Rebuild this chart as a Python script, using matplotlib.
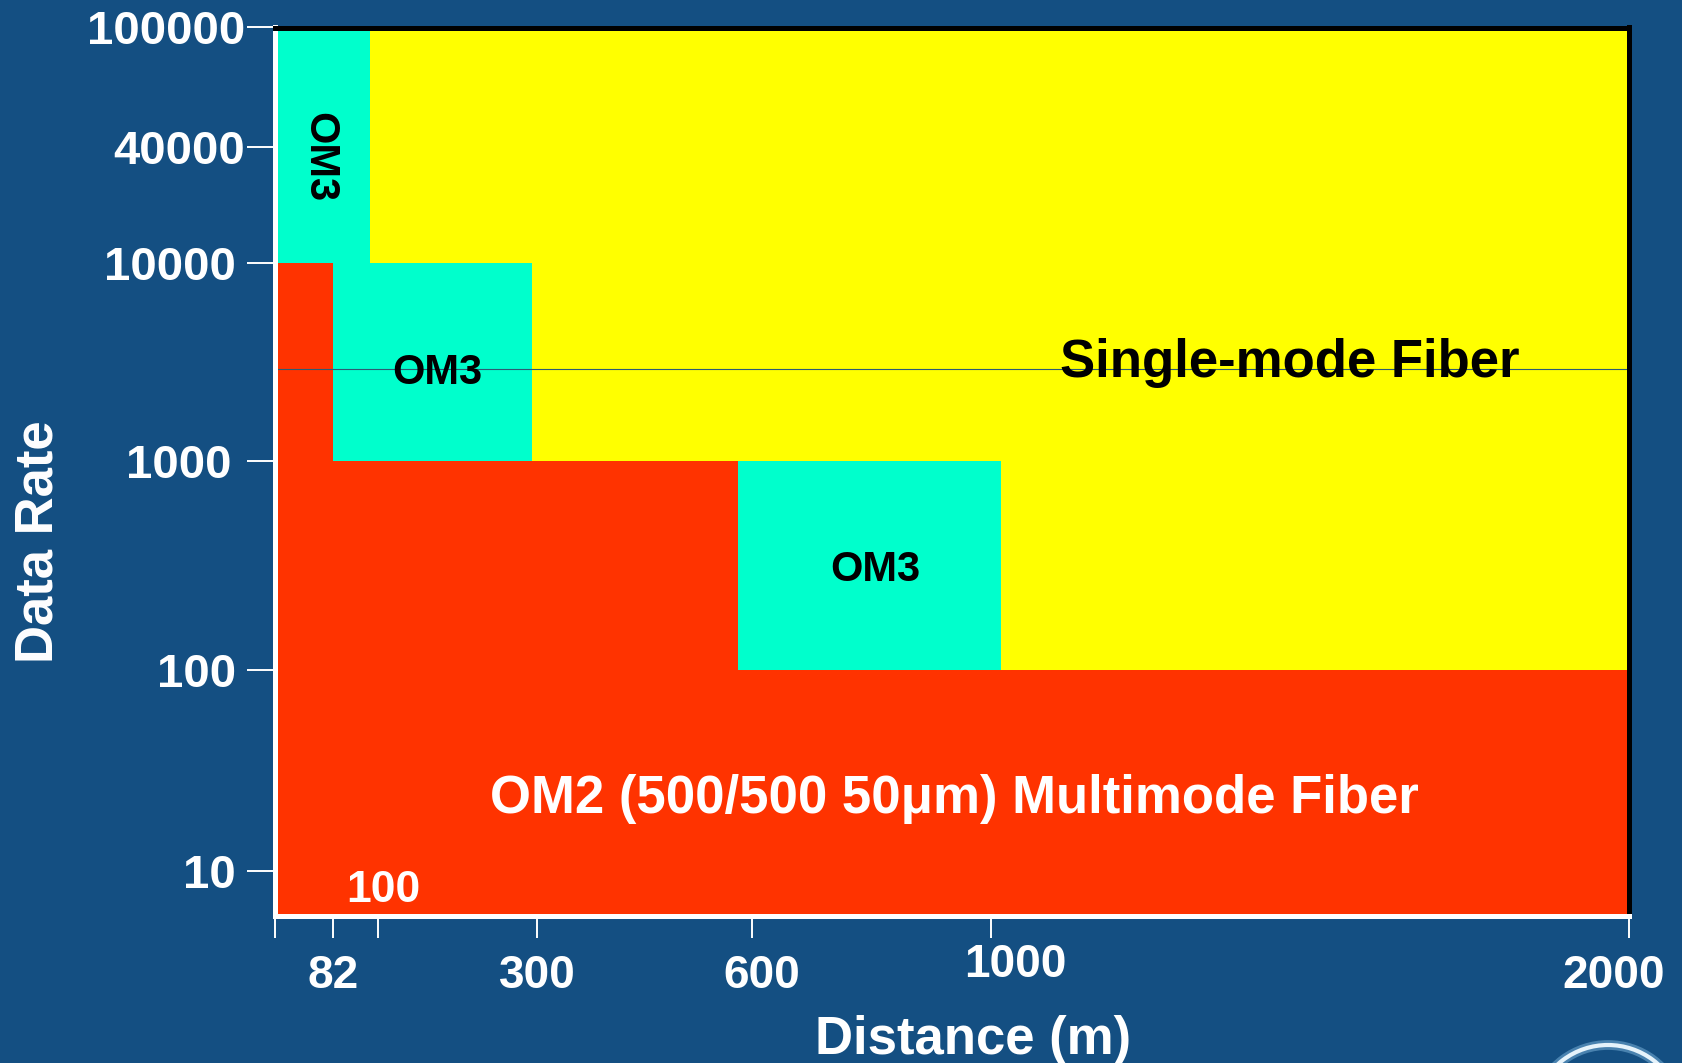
import numpy as np
import matplotlib
matplotlib.use("Agg")
import matplotlib.pyplot as plt
from matplotlib.patches import Arc
from matplotlib.transforms import ScaledTranslation

plt.rcParams['font.family'] = ['Liberation Sans', 'DejaVu Sans']
plt.rcParams['font.weight'] = 'bold'

# 数据：距离 (m) 与速率
x_ticks = [0, 82, 100, 300, 600, 1000, 2000]
x_ticklabels = ['', '82', '', '300', '600', '1000', '2000']
y_ticks = [10, 100, 1000, 10000, 40000, 100000]
y_ticklabels = ['10', '100', '1000', '10000', '40000', '100000']

# OM2 多模光纤：各段距离上限及对应最高速率
om2_edges = [0, 82, 580, 2000]
om2_rates = [10000, 1000, 100]

# 单模光纤区域
sm_dist = (0, 2000)
sm_rate = (100, 100000)

# OM3 区域：(起始距离, 结束距离, 最低速率, 最高速率)
om3_x0 = [0, 82, 580]
om3_x1 = [97, 294, 1016]
om3_y0 = [10000, 1000, 100]
om3_y1 = [100000, 10000, 1000]
om3_rot = [-90, 0, 0]
om3_nudge = [(-2.3, -8.5), (3.1, -7.7), (3.9, -3.1)]  # 标签微调 (pt)

ref_rate = 2900  # 细横线

# 不均匀刻度：分段线性映射
x_knots = [0, 82, 100, 300, 600, 1000, 2000]
x_pos = [275, 333, 378, 537, 752, 991, 1629]
y_knots = np.log10([6.0, 10, 100, 1000, 10000, 40000, 100000])
y_pos = [-915.5, -871, -670, -461, -263, -147, -27.5]


def fx(d):
    return np.interp(d, x_knots, x_pos)


def fx_inv(p):
    return np.interp(p, x_pos, x_knots)


def fy(v):
    v = np.clip(np.asarray(v, dtype=float), 1e-12, None)
    return np.interp(np.log10(v), y_knots, y_pos)


def fy_inv(p):
    return 10 ** np.interp(p, y_pos, y_knots)


BG = '#144f82'
RED = '#ff3300'
YELLOW = '#ffff00'
CYAN = '#00ffcc'

fig = plt.figure(figsize=(16.82, 10.63), dpi=100, facecolor=BG)
W, H = 1682, 1063
ax = fig.add_axes([275 / W, 1 - 915.5 / H, (1629 - 275) / W, (915.5 - 27.5) / H])
ax.set_facecolor(BG)
ax.set_xscale('function', functions=(fx, fx_inv))
ax.set_yscale('function', functions=(fy, fy_inv))
ax.set_xlim(0, 2000)
ax.set_ylim(6.0, 100000)

# 单模光纤（黄色底）
ax.fill_between(sm_dist, sm_rate[0], sm_rate[1], color=YELLOW, lw=0, zorder=1)
# OM2 阶梯区域
ax.stairs(om2_rates, om2_edges, baseline=6.0, fill=True, color=RED, lw=0, zorder=1.2)
# OM3 区域
for x0, x1, y0, y1, rot, nd in zip(om3_x0, om3_x1, om3_y0, om3_y1, om3_rot, om3_nudge):
    ax.fill_between([x0, x1], y0, y1, color=CYAN, lw=0, zorder=1.4)
    cx = fx_inv((fx(x0) + fx(x1)) / 2)
    cy = fy_inv((fy(y0) + fy(y1)) / 2)
    ax.annotate('OM3', xy=(cx, cy), xytext=nd, textcoords='offset points',
                rotation=rot, ha='center', va='center',
                fontsize=30, fontweight='bold', color='black', zorder=3)

ax.axhline(ref_rate, color='#2d5b73', lw=0.8, zorder=1.6)

ax.text(0.7496, 0.6217, 'Single-mode Fiber', transform=ax.transAxes,
        ha='center', va='center', fontsize=38, fontweight='bold', color='black', zorder=3)
ax.text(0.5015, 0.1309, 'OM2 (500/500 50μm) Multimode Fiber', transform=ax.transAxes,
        ha='center', va='center', fontsize=38, fontweight='bold', color='white', zorder=3)
ax.annotate('100', xy=(100, 0), xycoords=('data', 'axes fraction'),
            xytext=(3.6, 18), textcoords='offset points', ha='center', va='center',
            fontsize=32, fontweight='bold', color='white', zorder=3)

# 坐标轴
ax.set_xticks(x_ticks)
ax.set_xticklabels(x_ticklabels)
ax.set_yticks(y_ticks)
ax.set_yticklabels(y_ticklabels)
ax.minorticks_off()
ax.tick_params(axis='x', length=16, width=1.4, color='white', pad=12,
               labelsize=33, labelcolor='white')
ax.tick_params(axis='y', length=20, width=1.4, color='white', pad=8,
               labelsize=34, labelcolor='white')
for lab in ax.get_xticklabels() + ax.get_yticklabels():
    lab.set_fontweight('bold')

# 个别刻度标签的微调（英寸）
x_shift = {'600': (0.10, 0.0), '1000': (0.24, 0.11), '2000': (-0.15, 0.0)}
y_shift = {'100000': (0.09, 0.0), '40000': (0.09, 0.0), '1000': (-0.05, 0.0)}
for labs, shift in [(ax.get_xticklabels(), x_shift), (ax.get_yticklabels(), y_shift)]:
    for lab in labs:
        s = lab.get_text()
        if s in shift:
            dx, dy = shift[s]
            lab.set_transform(lab.get_transform() + ScaledTranslation(dx, dy, fig.dpi_scale_trans))

for side, col in [('left', 'white'), ('bottom', 'white'), ('top', 'black'), ('right', 'black')]:
    ax.spines[side].set_color(col)
    ax.spines[side].set_linewidth(3.6)
    ax.spines[side].set_zorder(2.5)

ax.set_ylabel('Data Rate', fontsize=38, fontweight='bold', color='white', va='center')
ax.yaxis.set_label_coords(-0.1748, 0.4206)
ax.set_xlabel('Distance (m)', fontsize=38, fontweight='bold', color='white', va='center')
ax.xaxis.set_label_coords(0.5155, -0.1407)

# 右下角标志的弧线
for lw, col, a in [(7, '#7fb6dc', 0.5), (3, '#e6f3fb', 1.0)]:
    fig.add_artist(Arc((1608 / W, 1 - 1120 / H), 150 / W, 150 / H, theta1=25, theta2=155,
                       transform=fig.transFigure, color=col, lw=lw, alpha=a))

fig.savefig('out.png', dpi=100, facecolor=BG)
